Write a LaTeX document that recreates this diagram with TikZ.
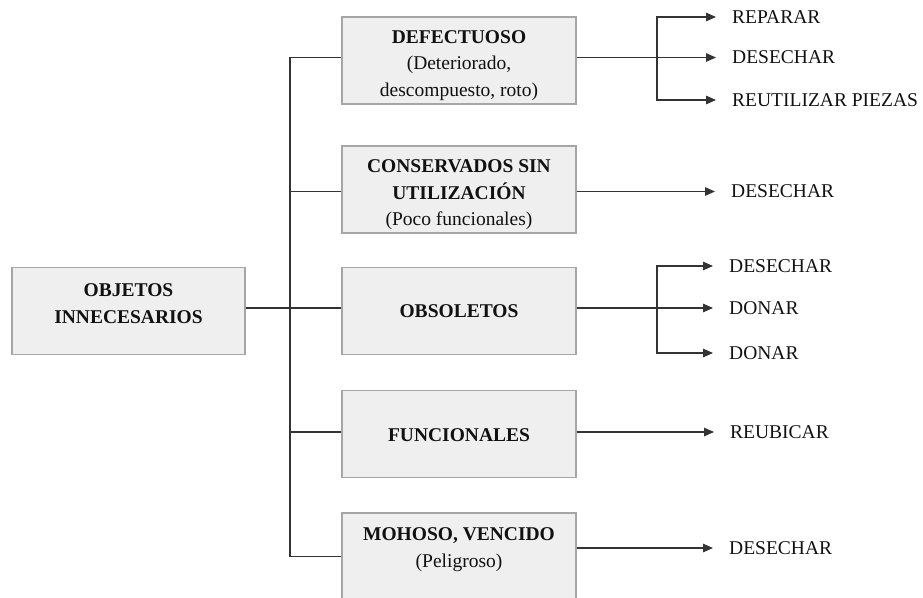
\documentclass[tikz,border=0pt]{standalone}
\usepackage{fontspec}
\setmainfont{Liberation Serif}
\usetikzlibrary{arrows.meta}
\definecolor{boxfill}{HTML}{EFEFEF}
\definecolor{boxedge}{HTML}{A6A6A6}
\definecolor{linecol}{HTML}{333333}
\definecolor{inkcol}{HTML}{111111}
\begin{document}
\begin{tikzpicture}[x=1pt,y=-1pt,
  catbox/.style={draw=boxedge, line width=1.3pt, fill=boxfill, minimum width=234pt,
    minimum height=87pt, inner sep=0pt},
  txt/.style={inner sep=0pt, align=center, text=inkcol, font=\fontsize{19.5}{26.5}\selectfont},
  action/.style={inner sep=0pt, anchor=west, text=inkcol, font=\fontsize{19.5}{23}\selectfont},
  wire/.style={draw=linecol, line width=1.2pt},
  arrowwire/.style={wire, -{Triangle[length=10pt,width=8.5pt]}, shorten >=16pt}
]
\useasboundingbox (0,0) rectangle (923,597);

% root box
\node[catbox, minimum width=233pt] (root) at (128.5,311) {};
\node[txt] (roott) at (128.5,303.5) {\textbf{OBJETOS}\\\textbf{INNECESARIOS}};

% category boxes and their texts
\node[catbox] (b1) at (459,60.5) {};
\node[txt] (b1t) at (459,65.5) {\textbf{DEFECTUOSO}\\(Deteriorado,\\descompuesto, roto)};
\node[catbox] (b2) at (459,189.5) {};
\node[txt] (b2t) at (459,195) {\textbf{CONSERVADOS SIN}\\\textbf{UTILIZACIÓN}\\(Poco funcionales)};
\node[catbox] (b3) at (459,311) {};
\node[txt] (b3t) at (459,311.5) {\textbf{OBSOLETOS}};
\node[catbox] (b4) at (459,434) {};
\node[txt] (b4t) at (459,435) {\textbf{FUNCIONALES}};
\node[catbox] (b5) at (459,556.5) {};
\node[txt] (b5t) at (459,549.5) {\textbf{MOHOSO, VENCIDO}\\(Peligroso)};

% connection points on the box sides
\coordinate (b1w) at ([yshift=3pt]b1.west);
\coordinate (b1e) at ([yshift=3pt]b1.east);
\coordinate (b2w) at ([yshift=-2pt]b2.west);
\coordinate (b2e) at ([yshift=-2pt]b2.east);
\coordinate (b3w) at ([yshift=3pt]b3.west);
\coordinate (b3e) at ([yshift=3pt]b3.east);
\coordinate (rte) at ([yshift=3pt]root.east);
\coordinate (b4w) at ([yshift=2pt]b4.west);
\coordinate (b4e) at ([yshift=2pt]b4.east);
\coordinate (b5e) at ([yshift=8.5pt]b5.east);

% trunk from the root to every category
\coordinate (tk) at (290,0);
\draw[wire] (b1w) -- (b1w -| tk) -- (b5.west -| tk) -- (b5.west);
\draw[wire] (b2w -| tk) -- (b2w);
\draw[wire] (rte) -- (b3w);
\draw[wire] (b4w -| tk) -- (b4w);

% actions
\node[action] (a11) at (732,17) {REPARAR};
\node[action] (a12) at (732,57.5) {DESECHAR};
\node[action] (a13) at (732,100) {REUTILIZAR PIEZAS};
\node[action] (a21) at (731,191.5) {DESECHAR};
\node[action] (a31) at (729,266) {DESECHAR};
\node[action] (a32) at (729,308) {DONAR};
\node[action] (a33) at (729,353) {DONAR};
\node[action] (a41) at (730,432) {REUBICAR};
\node[action] (a51) at (729,548) {DESECHAR};

% branches
\coordinate (f1) at (657,0);
\coordinate (f3) at (657,0);
\draw[wire] (b1e) -- (b1e -| f1);
\draw[arrowwire] (b1e -| f1) -- (a12.west);
\draw[arrowwire] (b1e -| f1) |- (a11.west);
\draw[arrowwire] (b1e -| f1) |- (a13.west);
\draw[arrowwire] (b2e) -- (a21.west);
\draw[wire] (b3e) -- (b3e -| f3);
\draw[arrowwire] (b3e -| f3) -- (a32.west);
\draw[arrowwire] (b3e -| f3) |- (a31.west);
\draw[arrowwire] (b3e -| f3) |- (a33.west);
\draw[arrowwire] (b4e) -- (a41.west);
\draw[arrowwire] (b5e) -- (a51.west);
\end{tikzpicture}
\end{document}
